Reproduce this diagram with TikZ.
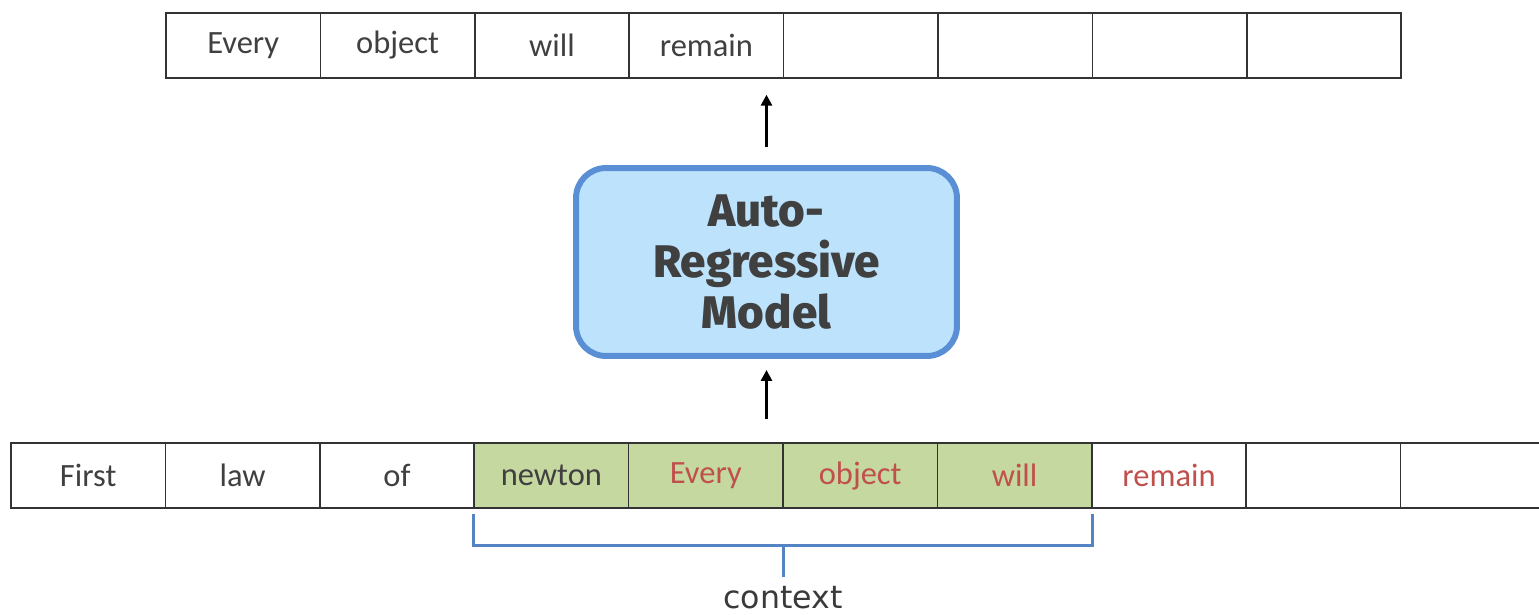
\documentclass[tikz,border=0pt]{standalone}
\usepackage{fontspec}
\setmainfont{Carlito}
\newfontfamily\modelfont{Fira Sans}[BoldFont={Fira Sans ExtraBold}]
\newfontfamily\ctxfont{DejaVu Sans}
\usetikzlibrary{positioning,arrows.meta}
\definecolor{txtgray}{HTML}{404040}
\definecolor{tokred}{HTML}{C0504D}
\definecolor{ctxgreen}{HTML}{C5D89F}
\definecolor{modelfill}{HTML}{BDE3FC}
\definecolor{modelblue}{HTML}{5A8FD5}
\definecolor{brkblue}{HTML}{5584C4}

\begin{document}
\begin{tikzpicture}[x=0.02cm,y=-0.02cm]
  \tikzset{cell/.style={draw=black!80,line width=0.8pt,minimum width=3.088cm,minimum height=1.3cm,inner sep=0pt,
                        font=\fontsize{18.5}{22}\selectfont,text=txtgray},
           ctxcell/.style={cell,fill=ctxgreen},
           ctxnew/.style={ctxcell,text=tokred},
           newtok/.style={cell,text=tokred},
           model/.style={draw=modelblue,fill=modelfill,line width=3.4pt,rounded corners=0.6cm,
                         minimum width=7.62cm,minimum height=3.76cm,align=center,text=txtgray,
                         font=\modelfont\bfseries\fontsize{26}{29}\selectfont},
           arr/.style={-{Triangle[length=0.22cm,width=0.22cm]},line width=1.6pt},
           brk/.style={draw=brkblue,line width=1.7pt},
           ctxtext/.style={inner sep=0pt,text=txtgray!90!black,font=\ctxfont\fontsize{18}{21}\selectfont}}
  \useasboundingbox (0,0) rectangle (1539,615);
  \clip (0,0) rectangle (1539,615);
  % predicted tokens
  \foreach \w [count=\i] in {Every,object,will,remain,{},{},{},{}}
    \node[cell] (out\i) at (88.8+154.4*\i,45.5) {\w};
  % input tokens
  \foreach \w/\s [count=\i] in {First/cell,law/cell,of/cell,newton/ctxcell,Every/ctxnew,object/ctxnew,will/ctxnew,remain/newtok,{}/cell,{}/cell}
    \node[\s] (in\i) at (-66.2+154.4*\i,475.5) {\w};
  \node[model] (model) at (766.5,262) {Auto-\\Regressive\\Model};
  \draw[arr,shorten <=0.36cm,shorten >=0.32cm] (model.north) -- (model.north |- out4.south);
  \draw[arr,shorten <=0.46cm,shorten >=0.22cm] (model.south |- in5.north) -- (model.south);
  % context bracket
  \draw[brk] ([yshift=-0.1cm]in4.south west) -- ++(0,-0.64cm) -| ([yshift=-0.1cm]in7.south east);
  \path ([yshift=-0.74cm]in4.south west) -- ([yshift=-0.74cm]in7.south east) coordinate[midway] (mid);
  \node[ctxtext,below=0.8cm of mid] (ctx) {context};
  \draw[brk,shorten >=0.18cm] (mid) -- (ctx.north);
\end{tikzpicture}
\end{document}
